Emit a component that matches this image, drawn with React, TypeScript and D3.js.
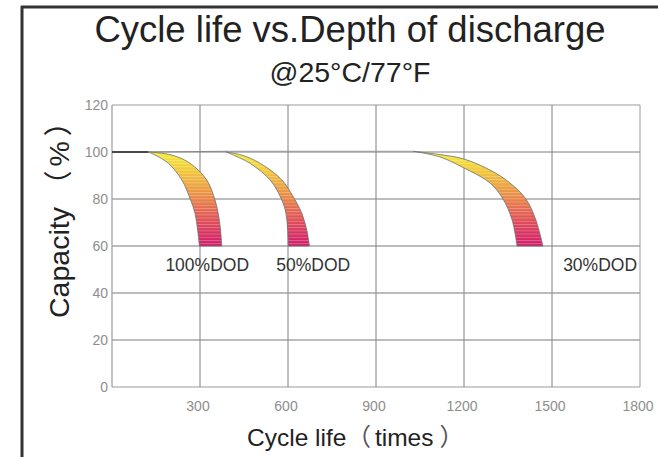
import React from "react";
import * as d3 from "d3";

const title = "Cycle life vs.Depth of discharge";
const subtitle = "@25°C/77°F";
const yTitleMain = "Capacity";
const yTitleUnit = "%";
const xTitleMain = "Cycle life";
const xTitleUnit = "times";

const yTicks = [0, 20, 40, 60, 80, 100, 120];
const xTickLabels = [300, 600, 900, 1200, 1500, 1800];
const xGrid = [300, 600, 900, 1200, 1500, 1800];

// [cycles, capacity %]
const dod100Outer: [number, number][] = [[124, 100], [204, 98.7], [266, 95.2], [323, 88.1], [351, 79.6], [362, 73.9], [370, 66.8], [374, 60]];
const dod100Inner: [number, number][] = [[124, 100], [147, 98.7], [192, 95.2], [238, 88.1], [268, 79.6], [283, 73.9], [292, 66.8], [298, 60]];
const dod50Outer: [number, number][] = [[389, 100], [442, 98.7], [505, 95.2], [579, 88.1], [624, 79.6], [647, 73.9], [664, 66.8], [673, 60]];
const dod50Inner: [number, number][] = [[389, 100], [414, 98.7], [470, 95.2], [539, 88.1], [579, 79.6], [593, 73.9], [599, 66.8], [601, 60]];
const dod30Outer: [number, number][] = [[1027, 100.3], [1118, 98.9], [1200, 97.0], [1289, 92.3], [1357, 86.8], [1411, 80.0], [1445, 71.1], [1469, 60]];
const dod30Inner: [number, number][] = [[1027, 100.3], [1118, 97.9], [1200, 93.2], [1289, 86.8], [1333, 80.0], [1364, 71.1], [1381, 60]];

const seriesNames = ["100%DOD", "50%DOD", "30%DOD"];
const labelPos: [number, number][] = [[182, 50], [560, 50], [1790, 50]];

export default function App() {
  const W = 658, H = 457;
  const x = d3.scaleLinear().domain([0, 1800]).range([112, 640]);
  const y = d3.scaleLinear().domain([0, 120]).range([387, 105]);
  const line = d3
    .line<[number, number]>()
    .x((d) => x(d[0]))
    .y((d) => y(d[1]))
    .curve(d3.curveCatmullRom.alpha(0.5));

  const bands = [
    [dod100Outer, dod100Inner],
    [dod50Outer, dod50Inner],
    [dod30Outer, dod30Inner],
  ];
  const bandPath = (outer: [number, number][], inner: [number, number][]) => {
    const a = line(outer) || "";
    const b = (line([...inner].reverse()) || "").replace(/^M/, "L");
    return a + b + "Z";
  };

  const sans = "'Liberation Sans', Arial, sans-serif";
  const cjk = "'Noto Sans CJK SC', sans-serif";
  const tickFont = "'Liberation Sans', Arial, sans-serif";

  return (
    <div style={{ position: "absolute", left: 0, top: 0 }}>
      <svg width={W} height={H} style={{ display: "block" }}>
        <defs>
          <linearGradient id="bandGrad" gradientUnits="userSpaceOnUse" x1={0} x2={0} y1={y(100)} y2={y(60)}>
            <stop offset="0" stopColor="#f6ee3a" />
            <stop offset="0.2" stopColor="#f1c93c" />
            <stop offset="0.45" stopColor="#ea8f45" />
            <stop offset="0.7" stopColor="#e05556" />
            <stop offset="1" stopColor="#d21a6c" />
          </linearGradient>
          <pattern id="stripes" patternUnits="userSpaceOnUse" width={8} height={3.2}>
            <rect x={0} y={0} width={8} height={0.9} fill="#ffffff" opacity={0.28} />
          </pattern>
        </defs>
        <rect x={0} y={0} width={W} height={H} fill="#ffffff" />
        {/* frame */}
        <line x1={22} x2={22} y1={6} y2={H} stroke="#333" strokeWidth={3} />
        <line x1={21} x2={W} y1={7} y2={7} stroke="#333" strokeWidth={3} />

        {/* titles */}
        <text x={350} y={42} textAnchor="middle" fontFamily={sans} fontSize={36.5} fill="#222">{title}</text>
        <text x={350} y={82} textAnchor="middle" fontFamily={sans} fontSize={28.5} fill="#222">{subtitle}</text>

        {/* grid */}
        {yTicks.filter((t) => t > 0).map((t) => (
          <line key={"h" + t} x1={x(0)} x2={x(1800)} y1={y(t)} y2={y(t)} stroke={t === 120 ? "#9a9a9a" : "#7a7a7a"} strokeWidth={1} />
        ))}
        {xGrid.map((t) => (
          <line key={"v" + t} x1={x(t)} x2={x(t)} y1={y(120)} y2={y(0)} stroke={t === 1800 ? "#9a9a9a" : "#808080"} strokeWidth={1} />
        ))}
        <line x1={x(0)} x2={x(0)} y1={y(120)} y2={y(0)} stroke="#9a9a9a" strokeWidth={1.2} />
        <line x1={x(0)} x2={x(1800)} y1={y(0)} y2={y(0)} stroke="#9a9a9a" strokeWidth={1.2} />

        {/* tick labels */}
        {yTicks.map((t) => (
          <text key={"yl" + t} x={x(0) - 4} y={y(t) + 5} textAnchor="end" fontFamily={tickFont} fontSize={14} fill="#8e8e8e">{t}</text>
        ))}
        {xTickLabels.map((t) => (
          <text key={"xl" + t} x={x(t) - 2} y={411} textAnchor="middle" fontFamily={tickFont} fontSize={14} fill="#8e8e8e">{t}</text>
        ))}

        {/* flat parts at 100% */}
        <line x1={x(0)} x2={x(dod100Outer[0][0])} y1={y(100)} y2={y(100)} stroke="#222" strokeWidth={1.3} />
        <path d={line([[dod100Outer[0][0], 100], [dod50Outer[0][0], 100.3]]) || ""} fill="none" stroke="#888" strokeWidth={1} />
        <path d={line([[dod50Outer[0][0], 100.3], [dod30Outer[0][0], 100.3]]) || ""} fill="none" stroke="#999" strokeWidth={1} />

        {/* bands */}
        {bands.map(([o, i], k) => (
          <g key={"b" + k}>
            <path d={bandPath(o, i)} fill="url(#bandGrad)" stroke="none" />
            <path d={bandPath(o, i)} fill="url(#stripes)" stroke="#6f6f6f" strokeWidth={0.8} />
          </g>
        ))}

        {/* series labels */}
        {seriesNames.map((s, k) => (
          <text key={s} x={x(labelPos[k][0])} y={y(labelPos[k][1]) + 1} textAnchor={k === 2 ? "end" : "start"} fontFamily={sans} fontSize={17.5} fill="#333">{s}</text>
        ))}

        {/* axis titles */}
        <text transform={`translate(69,318) rotate(-90)`} textAnchor="start" fontFamily={sans} fontSize={28.5} fill="#222">
          {yTitleMain}
          <tspan fontFamily={cjk} dx={8}>（</tspan>
          <tspan dx={4}>{yTitleUnit}</tspan>
          <tspan fontFamily={cjk} dx={5}>）</tspan>
        </text>
        <text x={247} y={446} textAnchor="start" fontFamily={sans} fontSize={24.5} fill="#222">
          {xTitleMain}
          <tspan fontFamily={cjk} fill="#555" dx={0}>（</tspan>
          <tspan dx={4}>{xTitleUnit}</tspan>
          <tspan fontFamily={cjk} fill="#555" dx={6}>）</tspan>
        </text>
      </svg>
    </div>
  );
}
